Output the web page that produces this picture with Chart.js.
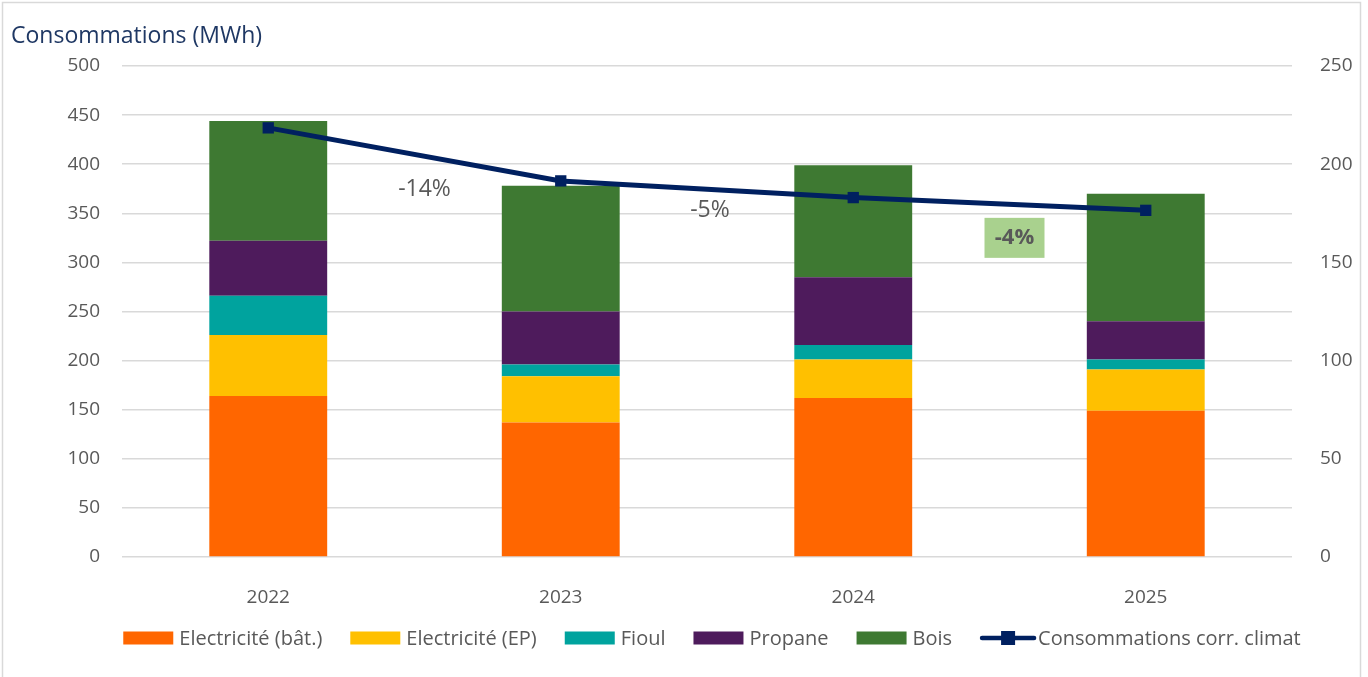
<!DOCTYPE html>
<html>
<head>
<meta charset="utf-8">
<script src="https://cdn.jsdelivr.net/npm/chart.js@4"></script>
<style>
  html, body { margin: 0; padding: 0; background: #fff; }
  #wrap { width: 1368px; height: 677px; position: relative; }
</style>
</head>
<body>
<div id="wrap"><canvas id="chartConso" width="1368" height="677"></canvas></div>
<script>
// ===== DONNEES =====
const annees = ["2022", "2023", "2024", "2025"];
const elecBat = [164, 137, 162, 149];
const elecEP = [62, 47, 39, 42];
const fioul = [40, 12, 15, 10];
const propane = [56, 54, 69, 39];
const bois = [122, 128, 114, 130];
const corrClimat = [218.5, 191.5, 183, 176.5];   // axe de droite
const evolLabels = ["-14%", "-5%", "-4%"];
const evolY = [374, 353, 325];                    // position (échelle gauche)

const police = "'Open Sans', 'Noto Sans', sans-serif";
const gris = "#595959";

// ===== PLUGINS =====
const cadre = {
  id: "cadre",
  beforeDraw(chart) {
    const c = chart.ctx;
    c.save();
    c.fillStyle = "#fff";
    c.fillRect(0, 0, chart.width, chart.height);
    c.strokeStyle = "#D9D9D9";
    c.lineWidth = 1.5;
    c.strokeRect(2.5, 2.5, 1358, 690);
    c.fillStyle = "#1F3864";
    c.font = "23px " + police;
    c.textBaseline = "alphabetic";
    c.fillText("Consommations (MWh)", 11, 43);
    c.restore();
  }
};

const evolutions = {
  id: "evolutions",
  afterDatasetsDraw(chart) {
    const c = chart.ctx, x = chart.scales.x, y = chart.scales.y;
    c.save();
    c.textAlign = "center";
    c.textBaseline = "middle";
    evolLabels.forEach((t, i) => {
      const px = (x.getPixelForValue(i) + x.getPixelForValue(i + 1)) / 2 + (i == 0 ? 10 : i == 1 ? 3 : 15);
      const py = y.getPixelForValue(evolY[i]);
      if (i == 2) {
        c.fillStyle = "#A9D18E";
        c.fillRect(px - 30, py - 20, 60, 40);
        c.fillStyle = gris;
        c.font = "bold 22px " + police;
      } else {
        c.fillStyle = gris;
        c.font = "23px " + police;
      }
      c.fillText(t, px, py);
    });
    c.restore();
  }
};

const legende = {
  id: "legende",
  afterDraw(chart) {
    const c = chart.ctx;
    const ds = chart.data.datasets;
    c.save();
    c.font = "20px " + police;
    c.textBaseline = "middle";
    const items = [...ds].sort((a, b) => a.legendOrder - b.legendOrder);
    let total = 0;
    items.forEach(d => total += 50 + 6 + c.measureText(d.label).width + 28);
    total -= 28;
    let x = 711 - total / 2;
    const y = 638;
    items.forEach(d => {
      if (d.type == "line") {
        c.strokeStyle = d.borderColor;
        c.lineWidth = 4.5;
        c.lineCap = "round";
        c.beginPath();
        c.moveTo(x + 2, y);
        c.lineTo(x + 54, y);
        c.stroke();
        c.fillStyle = d.borderColor;
        c.fillRect(x + 21, y - 7, 14, 14);
        x += 58;
      } else {
        c.fillStyle = d.backgroundColor;
        c.fillRect(x, y - 6.5, 50, 13);
        x += 56;
      }
      c.fillStyle = gris;
      c.fillText(d.label, x, y + 1);
      x += c.measureText(d.label).width + 28;
    });
    c.restore();
  }
};

// ===== GRAPHIQUE =====
const barre = (label, data, couleur, n) => ({
  type: "bar", label, data, backgroundColor: couleur, stack: "s", yAxisID: "y",
  order: 1, legendOrder: n, barPercentage: 0.403, categoryPercentage: 1,
  borderWidth: 0
});

new Chart(document.getElementById("chartConso"), {
  data: {
    labels: annees,
    datasets: [
      {
        type: "line", label: "Consommations corr. climat", data: corrClimat,
        yAxisID: "y1", order: 0, legendOrder: 6,
        borderColor: "#002060", backgroundColor: "#002060", borderWidth: 5,
        pointStyle: "rect", pointRadius: 8, pointBackgroundColor: "#002060",
        pointBorderWidth: 0, tension: 0
      },
      barre("Electricité (bât.)", elecBat, "#FF6600", 1),
      barre("Electricité (EP)", elecEP, "#FFC000", 2),
      barre("Fioul", fioul, "#00A39E", 3),
      barre("Propane", propane, "#4E1B5C", 4),
      barre("Bois", bois, "#3E7932", 5)
    ]
  },
  options: {
    responsive: false,
    animation: false,
    devicePixelRatio: 1,
    layout: { padding: { top: 66, left: 0, right: 0, bottom: 0 } },
    plugins: { legend: { display: false }, tooltip: { enabled: false } },
    scales: {
      x: {
        stacked: true,
        grid: { display: false },
        border: { display: false },
        ticks: { color: gris, font: { family: police, size: 19 }, padding: 21 },
        afterFit: s => { s.height = 120; }
      },
      y: {
        stacked: true, position: "left", min: 0, max: 500,
        ticks: { stepSize: 50, color: gris, font: { family: police, size: 19 }, padding: 22 },
        grid: { color: "#D9D9D9", lineWidth: 1.5, drawTicks: false },
        border: { display: false },
        afterFit: s => { s.width = 122; }
      },
      y1: {
        position: "right", min: 0, max: 250,
        ticks: { stepSize: 50, color: gris, font: { family: police, size: 19 }, padding: 20 },
        grid: { display: false },
        border: { display: false },
        afterFit: s => { s.width = 76; }
      }
    }
  },
  plugins: [cadre, evolutions, legende]
});
</script>
</body>
</html>
